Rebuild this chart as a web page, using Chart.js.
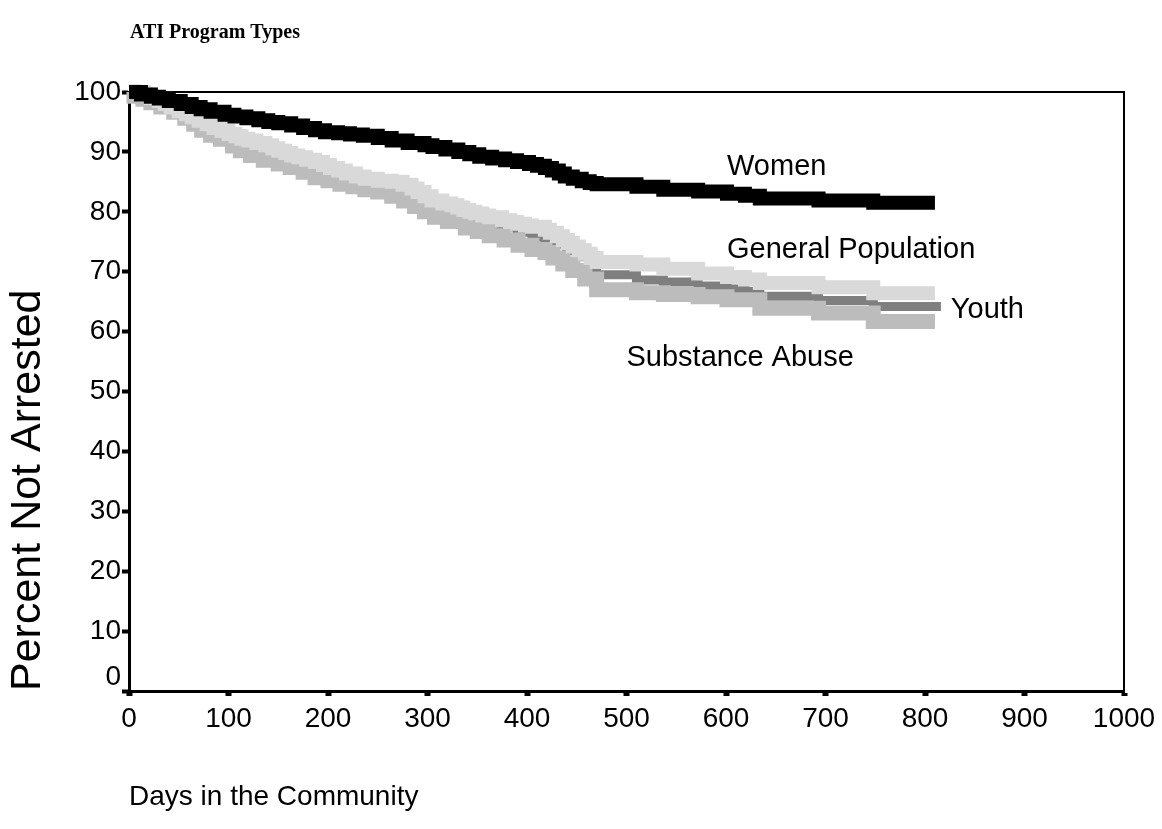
<!DOCTYPE html>
<html>
<head>
<meta charset="utf-8">
<title>ATI Program Types</title>
<script src="https://cdn.jsdelivr.net/npm/chart.js@4.4.1/dist/chart.umd.min.js"></script>
<style>
  html, body { margin: 0; padding: 0; background: #ffffff; }
  #wrap { width: 1162px; height: 829px; position: relative; }
</style>
</head>
<body>
<div id="wrap"><canvas id="survival" width="1162" height="829"></canvas></div>
<script>
// Kaplan-Meier style survival: percent of each program group not yet re-arrested.
// Each pair (day, percent) marks the day the curve steps down to that percent.
const womenDays = [0, 12, 22, 30, 40, 52, 63, 72, 82, 96, 106, 118, 130, 140, 150, 163, 175, 187, 197, 210, 222, 235, 250, 264, 280, 297, 305, 318, 331, 342, 352, 365, 378, 390, 402, 410, 418, 425, 432, 438, 446, 455, 463, 470, 510, 537, 572, 601, 619, 634, 693, 748, 810];
const womenPct  = [100, 99.6, 99.2, 98.9, 98.5, 98.0, 97.5, 97.1, 96.7, 96.2, 95.9, 95.6, 95.3, 95.0, 94.8, 94.4, 94.0, 93.6, 93.3, 93.1, 92.9, 92.7, 92.3, 91.9, 91.5, 91.1, 90.8, 90.4, 90.0, 89.6, 89.2, 88.9, 88.6, 88.3, 88.0, 87.7, 87.3, 86.9, 86.4, 85.9, 85.5, 85.1, 84.8, 84.6, 84.2, 83.7, 83.4, 83.0, 82.7, 82.2, 81.9, 81.5, 81.5];

const generalDays = [0, 15, 22, 30, 36, 42, 50, 57, 63, 70, 78, 85, 93, 100, 107, 113, 120, 128, 137, 144, 150, 157, 163, 170, 178, 187, 195, 202, 210, 218, 228, 237, 250, 264, 275, 284, 290, 297, 304, 315, 324, 330, 336, 342, 348, 355, 362, 375, 383, 390, 398, 405, 418, 423, 430, 436, 441, 446, 452, 458, 464, 470, 510, 537, 572, 601, 619, 634, 693, 748, 810];
const generalPct  = [100, 99.6, 99.0, 98.5, 98.0, 97.4, 96.8, 96.3, 95.8, 95.2, 94.6, 94.0, 93.5, 93.0, 92.6, 92.2, 91.9, 91.5, 91.1, 90.6, 90.2, 89.8, 89.4, 89.1, 88.7, 88.3, 87.8, 87.3, 86.9, 86.4, 85.9, 85.5, 85.2, 85.0, 84.5, 83.9, 83.3, 82.6, 81.9, 81.4, 81.1, 80.7, 80.3, 80.0, 79.7, 79.4, 79.1, 78.6, 78.3, 78.0, 77.7, 77.5, 77.0, 76.5, 75.9, 75.3, 74.8, 74.2, 73.6, 73.0, 72.3, 71.6, 71.2, 70.5, 69.7, 69.1, 68.7, 68.1, 67.4, 66.4, 66.4];

const youthDays = [0, 20, 40, 63, 90, 113, 137, 163, 187, 210, 237, 264, 287, 300, 315, 331, 348, 365, 390, 405, 418, 426, 440, 452, 462, 470, 510, 537, 572, 601, 619, 634, 693, 748, 816];
const youthPct  = [100, 99.3, 97.2, 95.5, 93.0, 91.3, 90.0, 88.6, 87.4, 86.0, 84.8, 84.0, 82.6, 80.8, 80.0, 79.0, 78.3, 77.5, 76.6, 75.8, 75.3, 74.6, 73.5, 72.5, 71.7, 69.5, 68.6, 68.3, 67.6, 67.1, 66.7, 65.9, 65.2, 64.2, 64.2];

const substanceDays = [0, 5, 14, 22, 32, 45, 56, 65, 73, 82, 92, 104, 112, 122, 135, 150, 162, 175, 187, 200, 212, 225, 237, 250, 264, 276, 287, 297, 307, 320, 338, 350, 362, 377, 391, 405, 418, 426, 436, 446, 458, 470, 510, 537, 572, 601, 634, 693, 748, 810];
const substancePct  = [100, 99.3, 98.8, 98.2, 97.5, 96.6, 95.6, 94.6, 93.6, 92.8, 92.1, 91.0, 90.2, 89.4, 88.6, 88.0, 87.4, 86.6, 85.7, 85.2, 84.6, 84.2, 83.7, 83.3, 82.6, 81.8, 80.9, 80.0, 79.1, 78.4, 77.3, 76.7, 76.0, 75.3, 74.4, 73.7, 73.2, 72.3, 71.3, 70.2, 68.8, 67.0, 66.5, 66.2, 65.8, 65.3, 63.9, 63.1, 61.7, 61.7];

// Axis tick values
const dayTicks = [0, 100, 200, 300, 400, 500, 600, 700, 800, 900, 1000];
const pctTicks = [0, 10, 20, 30, 40, 50, 60, 70, 80, 90, 100];

// Curve labels, placed in data units (left edge, vertical middle)
const curveLabels = ['Women', 'General Population', 'Youth', 'Substance Abuse'];
const curveLabelDays = [601, 601, 826, 500];
const curveLabelPct  = [87.5, 73.6, 63.6, 55.6];

const SANS = '"Liberation Sans", Arial, Helvetica, sans-serif';
const SERIF = '"Liberation Serif", "Times New Roman", Times, serif';

const toPoints = (days, pct) => days.map((d, i) => ({ x: d, y: pct[i] }));

// Plot frame (top and right edges), chart heading, curve labels and the offset "0" label
const decorations = {
  id: 'decorations',
  beforeDatasetsDraw(chart) {
    const { ctx, chartArea: a } = chart;
    ctx.save();
    ctx.strokeStyle = '#000';
    ctx.lineWidth = 2;
    ctx.beginPath();
    ctx.moveTo(a.left, a.top);
    ctx.lineTo(a.right, a.top);
    ctx.lineTo(a.right, a.bottom);
    ctx.stroke();
    ctx.restore();
  },
  afterDraw(chart) {
    const { ctx, scales: { x, y } } = chart;
    ctx.save();
    ctx.fillStyle = '#000';
    ctx.textBaseline = 'middle';
    ctx.textAlign = 'left';
    ctx.font = 'bold 20px ' + SERIF;
    ctx.fillText('ATI Program Types', 130, 33);

    ctx.font = '29px ' + SANS;
    curveLabels.forEach((t, i) => {
      ctx.fillText(t, x.getPixelForValue(curveLabelDays[i]), y.getPixelForValue(curveLabelPct[i]));
    });

    ctx.textAlign = 'right';
    ctx.font = '28px ' + SANS;
    ctx.fillText(String(pctTicks[0]), y.right - 8, y.getPixelForValue(pctTicks[0]) - 14);
    ctx.restore();
  }
};

const bandLine = (label, days, pct, color, width, order) => ({
  label,
  data: toPoints(days, pct),
  borderColor: color,
  backgroundColor: color,
  borderWidth: width,
  order,
  clip: false
});

new Chart(document.getElementById('survival'), {
  type: 'line',
  data: {
    datasets: [
      bandLine('Women', womenDays, womenPct, '#000000', 14, 0),
      bandLine('General Population', generalDays, generalPct, '#d9d9d9', 14, 1),
      bandLine('Substance Abuse', substanceDays, substancePct, '#bcbcbc', 15, 2),
      bandLine('Youth', youthDays, youthPct, '#7f7f7f', 9, 3)
    ]
  },
  options: {
    responsive: false,
    animation: false,
    devicePixelRatio: 1,
    layout: { padding: { top: 92, right: 38, left: 0, bottom: 0 } },
    elements: {
      line: { stepped: 'before', tension: 0, fill: false, borderCapStyle: 'butt', borderJoinStyle: 'miter' },
      point: { radius: 0, hoverRadius: 0 }
    },
    plugins: { legend: { display: false }, tooltip: { enabled: false }, title: { display: false } },
    scales: {
      x: {
        type: 'linear',
        min: dayTicks[0],
        max: dayTicks[dayTicks.length - 1],
        afterBuildTicks(s) { s.ticks = dayTicks.map(v => ({ value: v })); },
        ticks: {
          color: '#000', font: { family: SANS, size: 28 }, padding: 6, maxRotation: 0, autoSkip: false,
          callback: v => String(v)
        },
        grid: { drawOnChartArea: false, drawTicks: true, tickLength: 5, tickWidth: 6, tickColor: '#000' },
        border: { display: true, color: '#000', width: 3 },
        title: {
          display: true, text: 'Days in the Community', align: 'start', color: '#000',
          font: { family: SANS, size: 28 }, padding: { top: 0, bottom: 15 }
        },
        afterFit(s) { s.height = 138; }
      },
      y: {
        type: 'linear',
        min: pctTicks[0],
        max: pctTicks[pctTicks.length - 1],
        afterBuildTicks(s) { s.ticks = pctTicks.map(v => ({ value: v })); },
        ticks: {
          color: '#000', font: { family: SANS, size: 28 }, padding: 1,
          callback: v => (v === pctTicks[0] ? '' : String(v))
        },
        grid: { drawOnChartArea: false, drawTicks: true, tickLength: 7, tickWidth: 4, tickColor: '#000' },
        border: { display: true, color: '#000', width: 3 },
        title: {
          display: true, text: 'Percent Not Arrested', align: 'start', color: '#000',
          font: { family: SANS, size: 43 }, padding: { top: 2, bottom: 0 }
        },
        afterFit(s) { s.width = 129; }
      }
    }
  },
  plugins: [decorations]
});
</script>
</body>
</html>
